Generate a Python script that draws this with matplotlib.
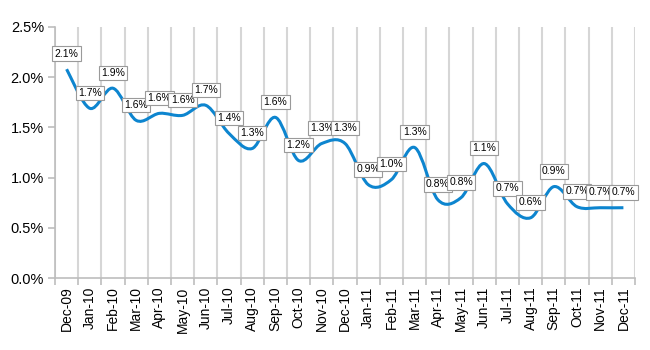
import numpy as np
import matplotlib
matplotlib.use("Agg")
import matplotlib.pyplot as plt
from matplotlib.path import Path
from matplotlib.patches import PathPatch

#%% data (percent)
months = ["Dec-09", "Jan-10", "Feb-10", "Mar-10", "Apr-10", "May-10", "Jun-10",
          "Jul-10", "Aug-10", "Sep-10", "Oct-10", "Nov-10", "Dec-10", "Jan-11",
          "Feb-11", "Mar-11", "Apr-11", "May-11", "Jun-11", "Jul-11", "Aug-11",
          "Sep-11", "Oct-11", "Nov-11", "Dec-11"]
rate = [2.08, 1.69, 1.89, 1.57, 1.64, 1.62, 1.72, 1.44, 1.29, 1.60, 1.17, 1.34,
        1.34, 0.93, 0.98, 1.30, 0.78, 0.80, 1.14, 0.74, 0.60, 0.91, 0.71, 0.70,
        0.70]
yticks = [0.0, 0.5, 1.0, 1.5, 2.0, 2.5]

plt.rcParams['font.family'] = ['Liberation Sans', 'DejaVu Sans']

fig = plt.figure(figsize=(6.5, 3.5), dpi=100)
ax = fig.add_axes([55 / 650, 1 - 278 / 350, 580 / 650, 251 / 350])

x = np.arange(len(rate))
y = np.array(rate)

# smoothed line like excel: cubic bezier, catmull-rom control points
verts = [(x[0], y[0])]
codes = [Path.MOVETO]
for i in range(len(x) - 1):
    p0 = np.array([x[max(i - 1, 0)], y[max(i - 1, 0)]])
    p1 = np.array([x[i], y[i]])
    p2 = np.array([x[i + 1], y[i + 1]])
    p3 = np.array([x[min(i + 2, len(x) - 1)], y[min(i + 2, len(x) - 1)]])
    c1 = p1 + (p2 - p0) / 6
    c2 = p2 - (p3 - p1) / 6
    verts += [tuple(c1), tuple(c2), tuple(p2)]
    codes += [Path.CURVE4] * 3
ax.add_patch(PathPatch(Path(verts, codes), facecolor='none', edgecolor='#0d85cf',
                       lw=2.2, capstyle='butt', zorder=3))

for xi, yi in zip(x, y):
    ax.annotate(f"{yi:.1f}%", (xi, yi), xytext=(0, 7.5), textcoords='offset points',
                ha='center', va='bottom', fontsize=7.5, zorder=5,
                bbox=dict(boxstyle='square,pad=0.22', fc='white', ec='#9a9a9a', lw=0.8))

ax.set_xlim(-0.5, len(rate) - 0.5)
ax.set_ylim(0, 2.5)
ax.set_yticks(yticks)
ax.set_yticklabels([f"{t:.1f}%" for t in yticks], fontsize=10.5)
ax.set_xticks(x)
ax.set_xticklabels(months, rotation=90, fontsize=10)
ax.set_xticks(np.arange(len(rate) + 1) - 0.5, minor=True)
ax.tick_params(axis='x', which='major', length=0, pad=6)
ax.tick_params(axis='x', which='minor', length=5, width=1.2, color='#bdbdbd')
ax.tick_params(axis='y', length=5, width=1.2, color='#bdbdbd', pad=3)
ax.grid(axis='x', which='minor', color='#d6d6d6', lw=1.5)
ax.set_axisbelow(True)
for s in ['top', 'right']:
    ax.spines[s].set_visible(False)
for s in ['left', 'bottom']:
    ax.spines[s].set_color('#bdbdbd')
    ax.spines[s].set_linewidth(1.2)

fig.savefig("out.png", dpi=100)
